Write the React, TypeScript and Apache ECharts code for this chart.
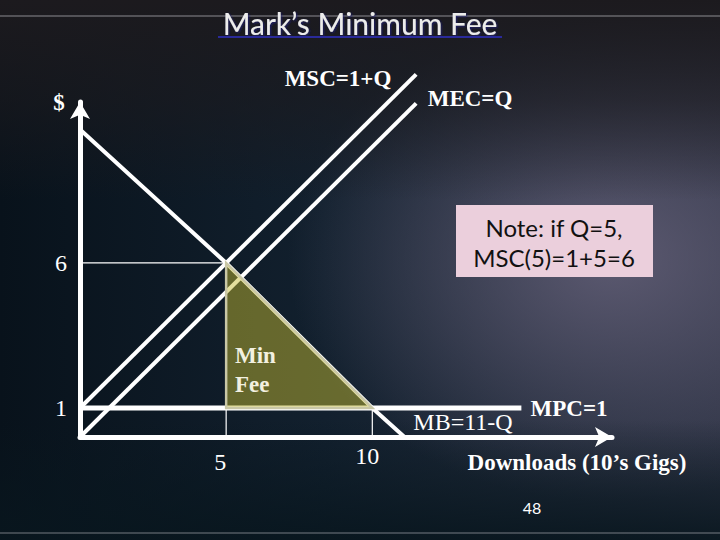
import React, { useEffect, useRef } from "react";
import * as echarts from "echarts";

// Data (Q = downloads, P = $)
const mbCurve: [number, number][] = [[0, 10.6], [5, 6], [10, 1], [11.1, 0]];
const mscCurve: [number, number][] = [[0, 1], [11.5, 12.5]];
const mecCurve: [number, number][] = [[0, 0], [11.5, 11.5]];
const mpcCurve: [number, number][] = [[0, 1], [15.1, 1]];
const guidePrice6: [number, number][] = [[0, 6], [5, 6]];
const guideQ5: [number, number][] = [[5, 6], [5, 0]];
const guideQ10: [number, number][] = [[10, 1], [10, 0]];
const minFeeTriangle: [number, number][] = [[5, 6], [5, 1], [10, 1]];
const xTickLabels = [5, 10];
const yTickLabels = [1, 6];

const SERIF = "'Liberation Serif', 'DejaVu Serif', serif";
const SANS = "Lato, 'Open Sans', sans-serif";

export default function App() {
  const ref = useRef<HTMLDivElement>(null);
  useEffect(() => {
    if (!ref.current) return;
    const chart = echarts.init(ref.current, undefined, { renderer: "svg" });
    const lineSeries = (data: [number, number][], width: number, z = 3) => ({
      type: "line",
      data,
      symbol: "none",
      clip: false,
      silent: true,
      z,
      lineStyle: { color: "#ffffff", width, cap: "butt" },
    });
    const txt = (text: string, x: number, y: number, size: number, opts: any = {}) => ({
      type: "text",
      x,
      y,
      z: 100,
      style: {
        text,
        fill: opts.fill || "#ffffff",
        font: `${opts.weight || "normal"} ${size}px ${opts.family || SERIF}`,
        align: opts.align || "center",
        verticalAlign: "middle",
        textShadowColor: opts.shadow,
        textShadowBlur: opts.shadow ? 2 : 0,
        textShadowOffsetX: opts.shadow ? 1 : 0,
        textShadowOffsetY: opts.shadow ? 1 : 0,
      },
    });
    chart.setOption({
      animation: false,
      backgroundColor: "#101a24",
      grid: { left: 80, right: 108, top: 102, bottom: 103 },
      xAxis: {
        type: "value",
        min: 0,
        max: 18.2,
        interval: 5,
        splitLine: { show: false },
        axisTick: { show: false },
        axisLine: {
          show: true,
          symbol: ["none", "arrow"],
          symbolSize: [15, 17],
          lineStyle: { color: "#ffffff", width: 5 },
        },
        axisLabel: {
          margin: 8,
          color: "#ffffff",
          fontFamily: SERIF,
          fontSize: 24,
          formatter: (v: number) =>
            xTickLabels.includes(v) ? (v === 5 ? `{a|${v}}` : `{b|${v}}`) : "",
          rich: {
            a: { fontFamily: SERIF, fontSize: 24, color: "#fff", lineHeight: 34, padding: [0, 12, 0, 0] },
            b: { fontFamily: SERIF, fontSize: 24, color: "#fff", lineHeight: 22, padding: [0, 10, 0, 0] },
          },
        },
      },
      yAxis: {
        type: "value",
        min: 0,
        max: 11.55,
        interval: 1,
        splitLine: { show: false },
        axisTick: { show: false },
        axisLine: {
          show: true,
          symbol: ["none", "arrow"],
          symbolSize: [15, 17],
          lineStyle: { color: "#ffffff", width: 5 },
        },
        axisLabel: {
          margin: 13,
          color: "#ffffff",
          fontFamily: SERIF,
          fontSize: 24,
          formatter: (v: number) => (yTickLabels.includes(v) ? String(v) : ""),
        },
      },
      graphic: [
        {
          type: "rect",
          z: -10,
          shape: { x: 0, y: 0, width: 720, height: 540 },
          style: {
            fill: new echarts.graphic.LinearGradient(0, 0, 1, 0, [
              { offset: 0, color: "#08121b" },
              { offset: 0.45, color: "#12202e" },
              { offset: 1, color: "#2c3243" },
            ]),
          },
          silent: true,
        },
        {
          type: "rect",
          z: -9,
          shape: { x: 0, y: 0, width: 720, height: 540 },
          style: {
            fill: new echarts.graphic.RadialGradient(0.85, 0.48, 0.45, [
              { offset: 0, color: "rgba(105,100,125,0.8)" },
              { offset: 1, color: "rgba(105,100,125,0)" },
            ]),
          },
          silent: true,
        },
        {
          type: "rect",
          z: -8,
          shape: { x: 0, y: 0, width: 720, height: 200 },
          style: {
            fill: new echarts.graphic.LinearGradient(0, 0, 0, 1, [
              { offset: 0, color: "rgba(28,26,30,1)" },
              { offset: 0.5, color: "rgba(28,26,30,0.6)" },
              { offset: 1, color: "rgba(28,26,30,0)" },
            ]),
          },
          silent: true,
        },
        {
          type: "rect",
          z: -8,
          shape: { x: 0, y: 420, width: 720, height: 120 },
          style: {
            fill: new echarts.graphic.LinearGradient(0, 0, 0, 1, [
              { offset: 0, color: "rgba(8,22,30,0)" },
              { offset: 1, color: "rgba(8,22,30,0.9)" },
            ]),
          },
          silent: true,
        },
        {
          type: "line",
          z: -7,
          shape: { x1: 0, y1: 16, x2: 720, y2: 16 },
          style: { stroke: "rgba(190,190,195,0.35)", lineWidth: 2 },
          silent: true,
        },
        {
          type: "line",
          z: -7,
          shape: { x1: 0, y1: 533, x2: 720, y2: 533 },
          style: { stroke: "rgba(190,190,195,0.3)", lineWidth: 2 },
          silent: true,
        },
        // Title
        txt("Mark\u2019s Minimum Fee", 360, 23, 30, { family: SANS, fill: "#ececec", shadow: "#1a1a70" }),
        {
          type: "line",
          z: 100,
          shape: { x1: 218, y1: 37, x2: 502, y2: 37 },
          style: { stroke: "#2a2a9a", lineWidth: 2 },
        },
        // Note box
        {
          type: "rect",
          z: 90,
          shape: { x: 456, y: 205, width: 197, height: 72 },
          style: { fill: "#ebcfdc" },
        },
        txt("Note: if Q=5,", 554, 227, 24, { family: SANS, fill: "#111111" }),
        txt("MSC(5)=1+5=6", 554, 257, 24, { family: SANS, fill: "#111111" }),
        // Labels
        txt("$", 59, 102, 23, { weight: "bold" }),
        txt("MSC=1+Q", 338, 78, 23, { weight: "bold" }),
        txt("MEC=Q", 470, 98, 23, { weight: "bold" }),
        txt("Min", 235, 355, 23, { weight: "bold", align: "left", fill: "#f2f0e0" }),
        txt("Fee", 235, 384, 23, { weight: "bold", align: "left", fill: "#f2f0e0" }),
        txt("MB=11-Q", 463, 422, 24),
        txt("MPC=1", 569, 408, 23, { weight: "bold" }),
        txt("Downloads (10\u2019s Gigs)", 577, 462, 23, { weight: "bold" }),
        txt("48", 532, 507, 16, { family: SANS }),
      ],
      series: [
        lineSeries(guidePrice6, 1.2, 2),
        lineSeries(guideQ5, 1.2, 2),
        lineSeries(guideQ10, 1.2, 2),
        lineSeries(mpcCurve, 5),
        lineSeries(mbCurve, 4),
        lineSeries(mscCurve, 4),
        lineSeries(mecCurve, 4),
        {
          type: "custom",
          z: 5,
          silent: true,
          clip: false,
          data: [0],
          renderItem: (_params: any, api: any) => ({
            type: "polygon",
            shape: { points: minFeeTriangle.map((p) => api.coord(p)) },
            style: {
              fill: "rgba(200,190,48,0.47)",
              stroke: "#c9c7a6",
              lineWidth: 2.5,
            },
          }),
        },
      ],
    });
    return () => chart.dispose();
  }, []);
  return (
    <div
      ref={ref}
      style={{ position: "fixed", left: 0, top: 0, width: 720, height: 540 }}
    />
  );
}
